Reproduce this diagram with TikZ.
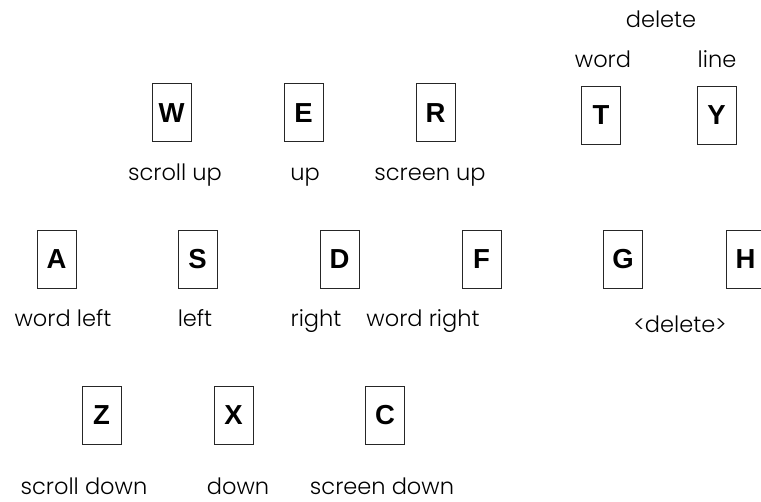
\documentclass[tikz,border=0pt]{standalone}
\usepackage{fontspec}
\setmainfont{Poppins Light}
\newfontfamily\keyfont{Liberation Sans}
\begin{document}
\begin{tikzpicture}[x=1pt,y=-1pt,
  keybox/.style={draw=black!85,line width=1pt,minimum width=39pt,minimum height=58pt,inner sep=0pt,
    font=\keyfont\fontsize{27.5}{27.5}\selectfont\bfseries},
  lbl/.style={anchor=base,inner sep=0pt,font=\fontsize{22.5}{22.5}\selectfont}]
\useasboundingbox (0,0) rectangle (761,502);
% row 1
\node[keybox] (W) at (171.5,113) {W};
\node[keybox] (E) at (303.5,113) {E};
\node[keybox] (R) at (435.5,113) {R};
\node[keybox] (T) at (601,115.5) {T};
\node[keybox] (Y) at (716.5,115.5) {Y};
\node[lbl] (lw) at (175,181) {scroll up};
\node[lbl] (le) at (305,181) {up};
\node[lbl] (lr) at (430,181) {screen up};
\node[lbl] (ldel) at (661,28) {delete};
\node[lbl] (lt) at (603,68) {word};
\node[lbl] (ly) at (717,68) {line};
% row 2
\node[keybox] (A) at (56.5,259.5) {A};
\node[keybox] (S) at (197.5,259.5) {S};
\node[keybox] (D) at (339.5,259.5) {D};
\node[keybox] (F) at (481.5,259.5) {F};
\node[keybox] (G) at (623,259.5) {G};
\node[keybox] (H) at (745.5,259.5) {H};
\node[lbl] (la) at (63,327) {word left};
\node[lbl] (ls) at (195,327) {left};
\node[lbl] (ld) at (316,327) {right};
\node[lbl] (lf) at (423,327) {word right};
\node[lbl] (lgh) at (680,333) {<delete>};
% row 3
\node[keybox] (Z) at (101.5,415.5) {Z};
\node[keybox] (X) at (233.5,415.5) {X};
\node[keybox] (C) at (385,415.5) {C};
\node[lbl] (lz) at (84,495) {scroll down};
\node[lbl] (lx) at (238,495) {down};
\node[lbl] (lc) at (382,495) {screen down};
\end{tikzpicture}
\end{document}
